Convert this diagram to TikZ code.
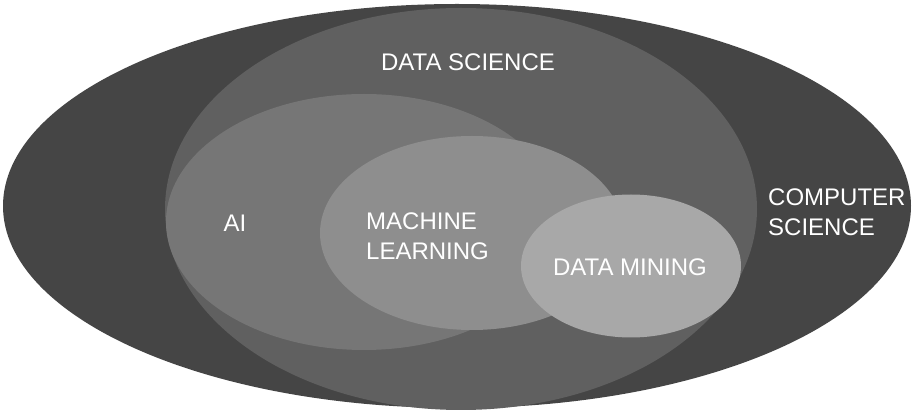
\documentclass[tikz,border=0pt]{standalone}
\usepackage{fontspec}
\setmainfont{Liberation Sans}
\usetikzlibrary{shapes.geometric}
\definecolor{csgray}{HTML}{454545}
\definecolor{dsgray}{HTML}{606060}
\definecolor{aigray}{HTML}{767676}
\definecolor{mlgray}{HTML}{8E8E8E}
\definecolor{dmgray}{HTML}{A8A8A8}
\tikzset{
  blob/.style={ellipse, draw=none, inner sep=0pt, outer sep=0pt},
  lbl/.style={text=white, font=\fontsize{24}{30}\selectfont, inner sep=0pt},
}
\begin{document}
\begin{tikzpicture}[x=1pt,y=-1pt]
\useasboundingbox (0,0) rectangle (914,411);
\fill[white] (0,0) rectangle (914,411);
\node[blob, fill=csgray, minimum width=908pt, minimum height=404pt] (cs) at (457,206) {};
\node[blob, fill=dsgray, minimum width=592pt, minimum height=402pt] (ds) at (461,209) {};
\node[blob, fill=aigray, minimum width=396pt, minimum height=256pt] (ai) at (364,222) {};
\node[blob, fill=mlgray, minimum width=304pt, minimum height=194pt] (ml) at (472,233) {};
\node[blob, fill=dmgray, minimum width=220pt, minimum height=143pt] (dm) at (631,266) {};
\node[lbl] (tds) at (468,62) {DATA SCIENCE};
\node[lbl] (tai) at (235,223) {AI};
\node[lbl, align=left, anchor=west] (tml) at (366,236) {MACHINE\\LEARNING};
\node[lbl] (tdm) at (630,267) {DATA MINING};
\node[lbl, align=left, anchor=west] (tcs) at (768,212) {COMPUTER\\SCIENCE};
\end{tikzpicture}
\end{document}
